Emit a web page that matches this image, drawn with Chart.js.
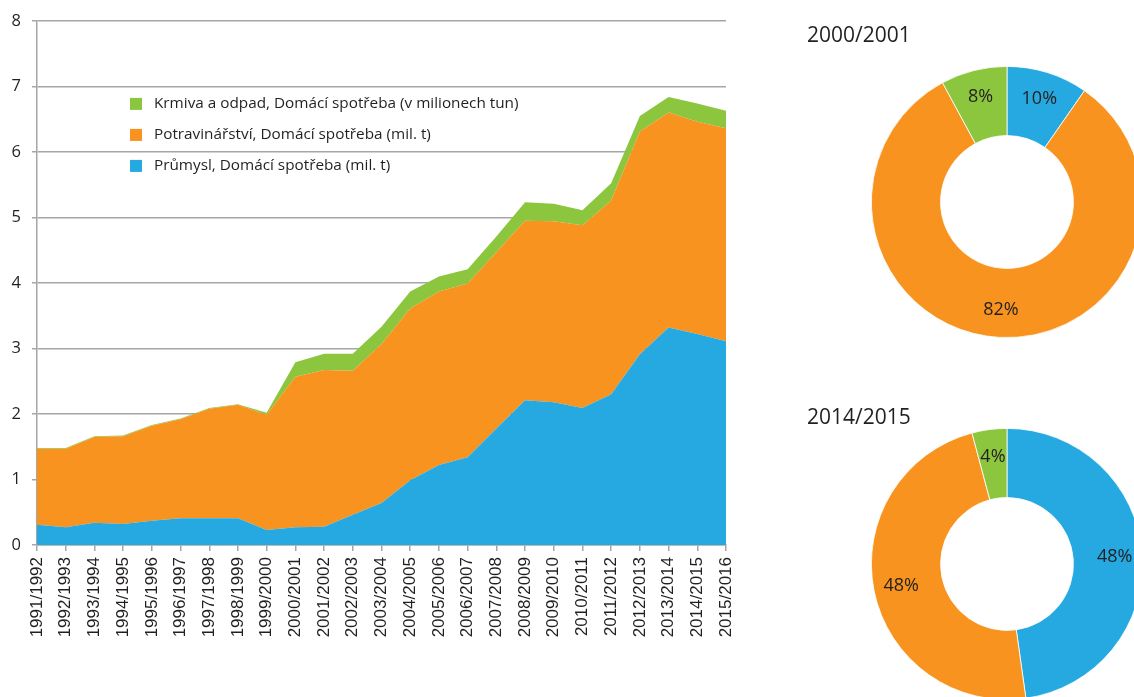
<!DOCTYPE html>
<html><head><meta charset="utf-8">
<script src="https://cdn.jsdelivr.net/npm/chart.js@4.4.1/dist/chart.umd.min.js"></script>
<style>
html,body{margin:0;padding:0;width:1134px;height:697px;overflow:hidden;background:#fff;}
.box{position:absolute;}
</style></head><body>
<div class="box" style="left:0;top:0;width:760px;height:697px"><canvas id="area"></canvas></div>
<div class="box" style="left:807px;top:20px;width:400px;height:318px"><canvas id="d1"></canvas></div>
<div class="box" style="left:807px;top:408px;width:400px;height:292px"><canvas id="d2"></canvas></div>
<script>
// ---- data ----
const categories = ['1991/1992','1992/1993','1993/1994','1994/1995','1995/1996','1996/1997','1997/1998','1998/1999','1999/2000','2000/2001','2001/2002','2002/2003','2003/2004','2004/2005','2005/2006','2006/2007','2007/2008','2008/2009','2009/2010','2010/2011','2011/2012','2012/2013','2013/2014','2014/2015','2015/2016'];
const prumysl = [0.31,0.27,0.34,0.32,0.37,0.41,0.41,0.41,0.23,0.27,0.28,0.46,0.64,0.99,1.22,1.34,1.78,2.21,2.18,2.09,2.30,2.91,3.32,3.22,3.11];
const potravinarstvi = [1.16,1.20,1.31,1.34,1.45,1.51,1.67,1.73,1.76,2.30,2.39,2.20,2.43,2.62,2.65,2.65,2.69,2.74,2.76,2.79,2.96,3.40,3.28,3.24,3.25];
const krmiva = [0.01,0.01,0.01,0.01,0.01,0.01,0.01,0.01,0.03,0.22,0.25,0.26,0.26,0.26,0.23,0.22,0.24,0.28,0.27,0.23,0.26,0.24,0.24,0.28,0.27];
const seriesNames = ['Průmysl, Domácí spotřeba (mil. t)','Potravinářství, Domácí spotřeba (mil. t)','Krmiva a odpad, Domácí spotřeba (v milionech tun)'];
const yTicks = [0,1,2,3,4,5,6,7,8];
const donutYears = ['2000/2001','2014/2015'];

const COLORS = ['#26a9e0','#f7931e','#8cc63f'];
const TEXT = '#231f20';
const GRID = '#a6a6a6';

function build(){
  const legendPlugin = {
    id:'inLegend',
    afterDatasetsDraw(chart){
      const ctx = chart.ctx, a = chart.chartArea;
      ctx.save();
      ctx.font = '15.3px "Open Sans"';
      ctx.textBaseline = 'middle';
      [2,1,0].forEach((i,k)=>{
        const y = a.top + 83 + k*31;
        ctx.fillStyle = COLORS[i];
        ctx.fillRect(a.left + 93, y-6, 12, 12);
        ctx.fillStyle = TEXT;
        ctx.fillText(seriesNames[i], a.left + 117, y);
      });
      ctx.restore();
    }
  };

  const seriesData = [prumysl, potravinarstvi, krmiva];
  new Chart(document.getElementById('area'), {
    type:'line',
    data:{
      labels: categories,
      datasets: seriesData.map((d,i)=>({
        label: seriesNames[i], data: d,
        backgroundColor: COLORS[i], borderColor: COLORS[i], borderWidth: 0,
        fill: i===0 ? 'origin' : '-1', pointRadius: 0, tension: 0
      }))
    },
    options:{
      responsive:true, maintainAspectRatio:false, animation:false,
      layout:{padding:{top:20,right:34,left:0,bottom:0}},
      plugins:{legend:{display:false}, tooltip:{enabled:false}},
      scales:{
        x:{
          offset:false,
          grid:{display:true, drawOnChartArea:false, drawTicks:true, tickLength:6, color:GRID, lineWidth:1.5},
          border:{color:GRID, width:1.5},
          ticks:{minRotation:90, maxRotation:90, autoSkip:false, padding:6, color:TEXT, font:{family:'"Liberation Sans", Arial', size:17}},
          afterFit(s){ s.height = 152; }
        },
        y:{
          stacked:true, min:0, max:8,
          afterBuildTicks(s){ s.ticks = yTicks.map(v=>({value:v})); },
          ticks:{padding:11, color:TEXT, font:{family:'"Open Sans"', size:16.5}},
          grid:{color:GRID, lineWidth:1.5, tickLength:5},
          border:{color:GRID, width:1.5},
          afterFit(s){ s.width = 37; }
        }
      }
    },
    plugins:[legendPlugin]
  });

  const pctPlugin = {
    id:'pct',
    afterDatasetsDraw(chart){
      const ctx = chart.ctx;
      const meta = chart.getDatasetMeta(0);
      const vals = chart.data.datasets[0].data;
      const total = vals.reduce((a,b)=>a+b,0);
      ctx.save();
      ctx.font = '18px "Open Sans"';
      ctx.fillStyle = TEXT;
      ctx.textAlign = 'center';
      ctx.textBaseline = 'middle';
      meta.data.forEach((arc,i)=>{
        const p = arc.getProps(['x','y','startAngle','endAngle','innerRadius','outerRadius'], true);
        const mid = (p.startAngle + p.endAngle)/2;
        const r = p.innerRadius + 0.6*(p.outerRadius - p.innerRadius);
        ctx.fillText(Math.round(vals[i]/total*100) + '%', p.x + r*Math.cos(mid), p.y + r*Math.sin(mid));
      });
      ctx.restore();
    }
  };

  function donut(id, year, titlePad, lh){
    const idx = categories.indexOf(year);
    new Chart(document.getElementById(id), {
      type:'doughnut',
      data:{
        labels: seriesNames,
        datasets:[{data:[prumysl[idx], potravinarstvi[idx], krmiva[idx]], backgroundColor:COLORS, borderColor:'#ffffff', borderWidth:0.8}]
      },
      options:{
        responsive:true, maintainAspectRatio:false, animation:false,
        cutout:'49%', rotation:0,
        layout:{padding:0},
        plugins:{
          legend:{display:false}, tooltip:{enabled:false},
          title:{display:true, text:year, align:'start', color:TEXT, padding:titlePad,
                 font:{family:'"Open Sans"', size:21, weight:'normal', lineHeight:lh}}
        }
      },
      plugins:[pctPlugin]
    });
  }
  donut('d1', donutYears[0], {top:4, bottom:17}, '25px');
  donut('d2', donutYears[1], {top:0, bottom:0}, '20px');
}

Promise.all([
  document.fonts.load('16px "Open Sans"'),
  document.fonts.load('17px "Liberation Sans"')
]).then(build, build);
</script>
</body></html>
